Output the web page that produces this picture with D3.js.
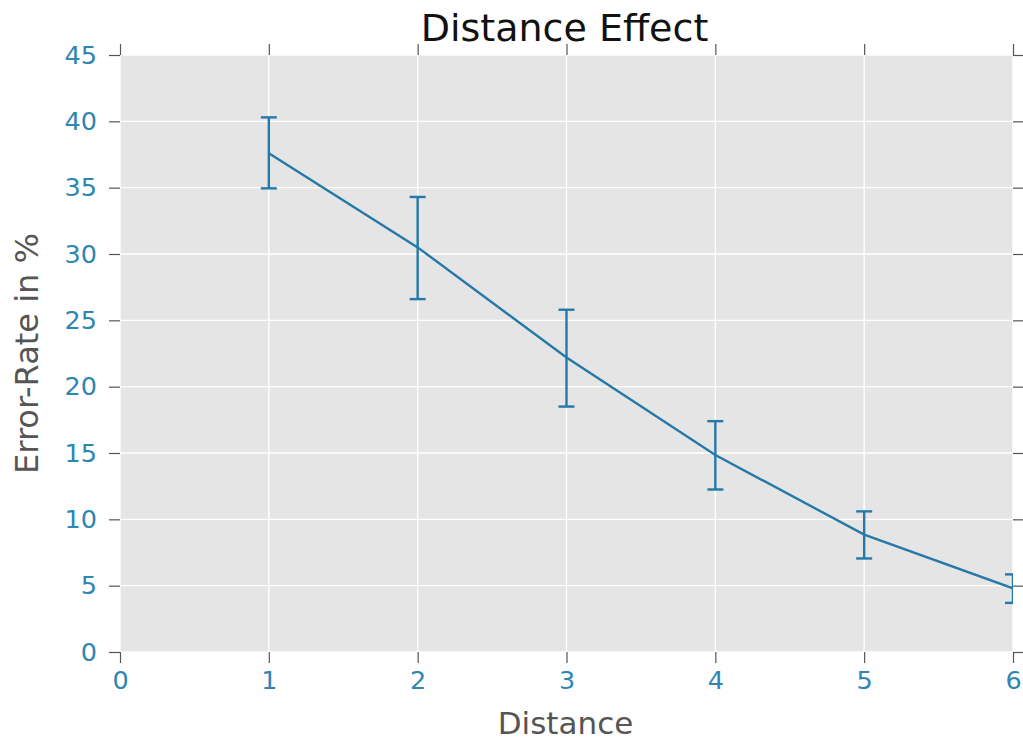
<!DOCTYPE html>
<html>
<head>
<meta charset="utf-8">
<script src="https://cdn.jsdelivr.net/npm/d3@7"></script>
<style>
  body { margin: 0; background: #fff; }
  svg { font-family: "DejaVu Sans", sans-serif; }
</style>
</head>
<body>
<svg id="chart" width="1023" height="743"></svg>
<script>
// values
const distance = [1, 2, 3, 4, 5, 6];
const errorRate = [37.6, 30.5, 22.2, 14.85, 8.85, 4.8];
const errorLow = [34.95, 26.6, 18.5, 12.25, 7.05, 3.7];
const errorHigh = [40.3, 34.3, 25.8, 17.4, 10.6, 5.85];
const xTicks = [0, 1, 2, 3, 4, 5, 6];
const yTicks = [0, 5, 10, 15, 20, 25, 30, 35, 40, 45];

const lineColor = '#2479a8';
const tickLabelColor = '#2f86b3';

const svg = d3.select('#chart');
const margin = { top: 55, right: 10, bottom: 91, left: 120 };
const width = 1023 - margin.left - margin.right;
const height = 743 - margin.top - margin.bottom;

const x = d3.scaleLinear().domain([0, 6]).range([0, width]);
const y = d3.scaleLinear().domain([0, 45]).range([height, 0]);

const g = svg.append('g').attr('transform', `translate(${margin.left},${margin.top})`);

g.append('defs').append('clipPath').attr('id', 'clip')
  .append('rect').attr('width', width).attr('height', height);

g.append('rect').attr('width', width).attr('height', height).attr('fill', '#e5e5e5');

// grid
g.selectAll('.gx').data(xTicks).enter().append('line')
  .attr('x1', d => x(d)).attr('x2', d => x(d))
  .attr('y1', 0).attr('y2', height)
  .attr('stroke', '#fff').attr('stroke-width', 1.4);
g.selectAll('.gy').data(yTicks).enter().append('line')
  .attr('x1', 0).attr('x2', width)
  .attr('y1', d => y(d)).attr('y2', d => y(d))
  .attr('stroke', '#fff').attr('stroke-width', 1.4);

// axes, ticks outward on all four sides
function styleAxis(sel) {
  sel.attr('font-family', null).attr('font-size', null);
  sel.select('.domain').remove();
  sel.selectAll('.tick line').attr('stroke', '#555').attr('stroke-width', 1.2);
  sel.selectAll('.tick text').attr('fill', tickLabelColor)
    .style('font-family', '"DejaVu Sans", sans-serif').style('font-size', '25.5px');
}
g.append('g').attr('transform', `translate(0,${height})`)
  .call(d3.axisBottom(x).tickValues(xTicks).tickSize(11).tickPadding(8).tickFormat(d3.format('d')))
  .call(styleAxis);
g.append('g')
  .call(d3.axisLeft(y).tickValues(yTicks).tickSize(11).tickPadding(12).tickFormat(d3.format('d')))
  .call(styleAxis);
g.append('g')
  .call(d3.axisTop(x).tickValues(xTicks).tickSize(11).tickFormat(''))
  .call(styleAxis);
g.append('g').attr('transform', `translate(${width},0)`)
  .call(d3.axisRight(y).tickValues(yTicks).tickSize(11).tickFormat(''))
  .call(styleAxis);

// data
const plot = g.append('g').attr('clip-path', 'url(#clip)');
const pts = distance.map((d, i) => ({ x: d, y: errorRate[i], lo: errorLow[i], hi: errorHigh[i] }));

plot.append('path').datum(pts)
  .attr('fill', 'none').attr('stroke', lineColor).attr('stroke-width', 2.4)
  .attr('d', d3.line().x(d => x(d.x)).y(d => y(d.y)));

const eb = plot.selectAll('.eb').data(pts).enter().append('g')
  .attr('stroke', lineColor).attr('stroke-width', 2.4);
eb.append('line')
  .attr('x1', d => x(d.x)).attr('x2', d => x(d.x))
  .attr('y1', d => y(d.lo)).attr('y2', d => y(d.hi));
eb.append('line')
  .attr('x1', d => x(d.x) - 8).attr('x2', d => x(d.x) + 8)
  .attr('y1', d => y(d.hi)).attr('y2', d => y(d.hi));
eb.append('line')
  .attr('x1', d => x(d.x) - 8).attr('x2', d => x(d.x) + 8)
  .attr('y1', d => y(d.lo)).attr('y2', d => y(d.lo));

// labels
svg.append('text').attr('x', margin.left + width / 2 - 2).attr('y', 41)
  .attr('text-anchor', 'middle').attr('fill', '#111').style('font-size', '38px')
  .text('Distance Effect');
svg.append('text').attr('x', margin.left + width / 2 - 1).attr('y', 734)
  .attr('text-anchor', 'middle').attr('fill', '#555').style('font-size', '31px')
  .text('Distance');
svg.append('text')
  .attr('transform', `translate(38,${margin.top + height / 2}) rotate(-90)`)
  .attr('text-anchor', 'middle').attr('fill', '#555').style('font-size', '32px')
  .text('Error-Rate in %');
</script>
</body>
</html>
